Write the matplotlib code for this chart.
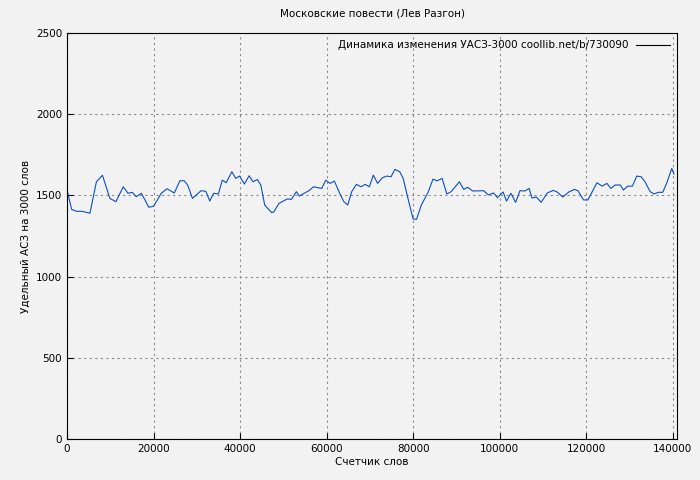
import matplotlib
matplotlib.use("Agg")
import matplotlib.pyplot as plt

words = [0,1070,2200,3500,5300,6800,8200,9900,11300,13000,14100,15100,16000,17200,18900,20000,
21800,23100,24800,26100,27100,27900,29000,31000,32100,33000,33900,35000,35900,36800,38100,39000,
39900,41000,42100,43000,44000,44800,45700,47300,47800,49000,50900,51900,53000,53700,55900,57000,
58900,59800,60800,61800,63000,64000,64900,65800,66900,68000,68900,69900,70800,71800,72900,73900,
74900,75800,76900,77700,78900,80000,80800,81900,83400,84600,85600,86700,87800,88800,90700,91700,
92600,93800,96300,97400,98600,99500,100800,101600,102600,103700,104700,105800,106800,107500,108500,
109600,111000,112400,113300,114600,116000,117300,118100,119400,120400,122500,123700,124800,125700,
126700,127900,128600,129600,130700,131700,132700,133600,134800,135700,136700,137700,138600,139800,140300]
values = [1533,1414,1402,1402,1390,1584,1624,1482,1461,1553,1513,1519,1492,1513,1427,1433,
1513,1541,1515,1590,1590,1563,1482,1529,1525,1465,1513,1509,1594,1578,1646,1605,
1619,1570,1621,1584,1598,1563,1441,1394,1398,1451,1478,1476,1523,1496,1529,1553,
1543,1594,1574,1588,1515,1461,1441,1523,1568,1553,1568,1553,1625,1574,1609,1619,
1615,1660,1646,1605,1472,1355,1353,1441,1515,1600,1590,1605,1509,1523,1584,1537,
1550,1527,1529,1503,1515,1486,1521,1465,1513,1457,1529,1527,1543,1484,1490,
1457,1515,1531,1521,1490,1521,1537,1529,1472,1472,1578,1557,1574,1543,
1564,1564,1533,1557,1557,1619,1615,1584,1523,1509,1519,1519,1574,1666,1631]

bg = "#f2f2f2"
fig = plt.figure(figsize=(7, 4.8), dpi=100, facecolor=bg)
ax = fig.add_axes([67/700, 1-439/480, 610/700, 406/480], facecolor=bg)
ax.plot(words, values, color="#0b4fc0", lw=0.8, label="Динамика изменения УАСЗ-3000 coollib.net/b/730090")
ax.set_xlim(0, 141000)
ax.set_ylim(0, 2500)
ax.set_xticks(range(0, 140001, 20000))
ax.set_yticks(range(0, 2501, 500))
ax.grid(True, color="#888888", ls=(0, (2, 3)), lw=0.8)
ax.tick_params(labelsize=7.5, direction="in", length=4)
ax.set_xlabel("Счетчик слов", fontsize=7.5, labelpad=2)
ax.set_ylabel("Удельный АСЗ на 3000 слов", fontsize=7.5)
ax.set_title("Московские повести (Лев Разгон)", fontsize=7.5, pad=12)
leg = ax.legend(loc="upper right", frameon=False, fontsize=7.5, markerfirst=False,
                handlelength=3.2, borderaxespad=0.3)
for h in leg.get_lines():
    h.set_color("black")
fig.savefig("out.png", dpi=100, facecolor=bg)
